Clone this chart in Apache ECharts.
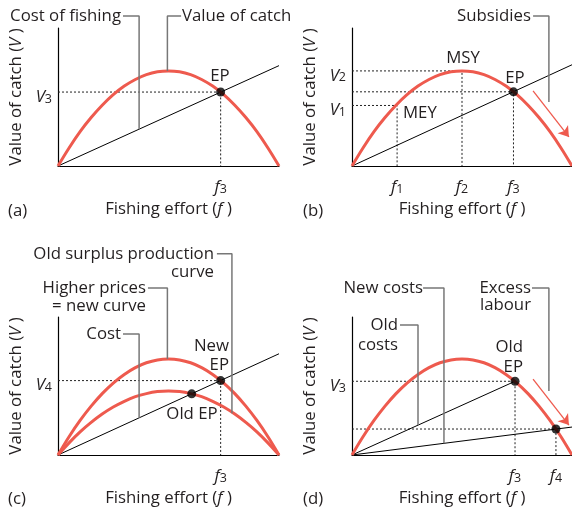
<!DOCTYPE html>
<html><head><meta charset="utf-8">
<script src="https://cdn.jsdelivr.net/npm/echarts@6/dist/echarts.min.js"></script>
<style>html,body{margin:0;padding:0;background:#fff}#c{width:572px;height:511px}</style>
</head><body><div id="c"></div>
<script>
// ---------- data ----------
const effort = [0,5,10,15,20,25,30,35,40,45,50,55,60,65,70,75,80,85,90,95,100];
const catchA = [0,8.2,15.6,22.0,27.6,32.4,36.3,39.3,41.5,42.8,43.2,42.8,41.5,39.3,36.3,32.4,27.6,22.0,15.6,8.2,0];
const catchB = [0,8.2,15.6,22.0,27.6,32.4,36.3,39.3,41.5,42.8,43.2,42.8,41.5,39.3,36.3,32.4,27.6,22.0,15.6,8.2,0];
const catchCNew = [0,8.3,15.7,22.2,27.9,32.7,36.6,39.7,41.9,43.2,43.6,43.2,41.9,39.7,36.6,32.7,27.9,22.2,15.7,8.3,0];
const catchCOld = [0,5.5,10.5,14.8,18.6,21.8,24.4,26.5,27.9,28.8,29.1,28.8,27.9,26.5,24.4,21.8,18.6,14.8,10.5,5.5,0];
const catchD = [0,8.3,15.7,22.2,27.9,32.7,36.6,39.7,41.9,43.2,43.6,43.2,41.9,39.7,36.6,32.7,27.9,22.2,15.7,8.3,0];

const costA = [[0,0],[100,45.6]];
const costB = [[0,0],[100,46]];
const costC = [[0,0],[100,46]];
const costDOld = [[0,0],[74.1,33.5]];
const costDNew = [[0,0],[100,12.7]];

const pointsA = [[73.6,33.6]];
const pointsB = [[73.4,33.7]];
const pointsC = [[73.6,33.8],[60.5,27.8]];
const pointsD = [[74.1,33.5],[92.7,11.8]];

const guidesA = [[[0,33.6],[73.6,33.6],[73.6,0]]];
const guidesB = [[[0,43.2],[50,43.2],[50,0]],[[0,33.7],[73.4,33.7],[73.4,0]],[[0,27.5],[20.5,27.5],[20.5,0]]];
const guidesC = [[[0,33.8],[73.6,33.8],[73.6,0]]];
const guidesD = [[[0,33.5],[74.1,33.5],[74.1,0]],[[0,11.8],[92.7,11.8],[92.7,0]]];

const leadersA = [[[29.4,68.2],[36.7,68.2],[36.7,16.7]],[[55.7,68.2],[49.5,68.2],[49.5,43.2]]];
const leadersB = [[[82.3,68.2],[89.5,68.2],[89.5,29.1]]];
const leadersC = [[[71.9,91.4],[78.7,91.4],[78.7,19]],[[40.7,75.9],[49.5,75.9],[49.5,43.6]],[[29.4,55],[36.7,55],[36.7,16.9]]];
const leadersD = [[[32.3,75.9],[41.8,75.9],[41.8,5.3]],[[21.8,59.1],[30,59.1],[30,13.6]],[[81.8,75.9],[89.5,75.9],[89.5,29.1]]];

const arrowB = [[82.3,34.1],[98.6,13.2]];
const arrowD = [[82.3,34.5],[98.6,13.6]];

// tick labels: [value, letter, subscript]
const yLabelsA = [[33.6,'V','3']];
const yLabelsB = [[43.2,'V','2'],[27.5,'V','1']];
const yLabelsC = [[33.8,'V','4']];
const yLabelsD = [[33.5,'V','3']];
const xLabelsA = [[73.6,'f','3']];
const xLabelsB = [[20.5,'f','1'],[50,'f','2'],[73.4,'f','3']];
const xLabelsC = [[73.6,'f','3']];
const xLabelsD = [[74.1,'f','3'],[92.7,'f','4']];

const panelLetters = ['(a)','(b)','(c)','(d)'];
const xTitle = 'Fishing effort (';
const yTitle = 'Value of catch (';

// ---------- styles ----------
const RED = '#ee5a4e';
const FONT = 'Open Sans';
const TXT = '#231f20';
const FS = 16.8;

const grids = [
  {left:58, top:28, width:221, height:138},
  {left:352, top:28, width:220, height:138},
  {left:58, top:317, width:221, height:138},
  {left:352, top:317, width:220, height:138}
];
const yLabelSets = [yLabelsA,yLabelsB,yLabelsC,yLabelsD];
const xLabelSets = [xLabelsA,xLabelsB,xLabelsC,xLabelsD];

const richSub = {
  i:{fontStyle:'italic', fontFamily:FONT, fontSize:FS, color:TXT, lineHeight:27, verticalAlign:'bottom'},
  s:{fontFamily:FONT, fontSize:12.5, color:TXT, lineHeight:12, verticalAlign:'bottom'}
};
function fmt(set){
  return function(v){
    for (const e of set){ if (Math.abs(e[0]-v) < 0.01) return '{i|'+e[1]+'}{s|'+e[2]+'}'; }
    return '';
  };
}
const titleRich = {it:{fontStyle:'italic', fontFamily:FONT, fontSize:FS, color:TXT}};

const xAxes = grids.map((g,i)=>({
  type:'value', gridIndex:i, min:0, max:100,
  splitLine:{show:false}, axisTick:{show:false},
  axisLine:{show:true, lineStyle:{color:'#000', width:1.2}},
  axisLabel:{customValues:xLabelSets[i].map(e=>e[0]), formatter:fmt(xLabelSets[i]), rich:richSub, margin:3},
  name: xTitle+'{it|f} )', nameLocation:'middle', nameGap:35,
  nameTextStyle:{fontFamily:FONT, fontSize:FS, color:TXT, rich:titleRich}
}));
const yAxes = grids.map((g,i)=>({
  type:'value', gridIndex:i, min:0, max:62.7,
  splitLine:{show:false}, axisTick:{show:false},
  axisLine:{show:true, onZero:false, lineStyle:{color:'#000', width:1.2}},
  axisLabel:{customValues:yLabelSets[i].map(e=>e[0]), formatter:fmt(yLabelSets[i]), rich:richSub, margin:6},
  name: yTitle+'{it|V} )', nameLocation:'middle', nameGap:33, nameRotate:90,
  nameTextStyle:{fontFamily:FONT, fontSize:FS, color:TXT, rich:titleRich}
}));

const series = [];
function curve(i, ys){
  series.push({type:'line', xAxisIndex:i, yAxisIndex:i, data:effort.map((x,k)=>[x,ys[k]]),
    smooth:0.4, showSymbol:false, symbol:'none', lineStyle:{color:RED, width:3}, z:4, silent:true});
}
function poly(i, pts, style, z){
  series.push({type:'line', xAxisIndex:i, yAxisIndex:i, data:pts, symbol:'none', showSymbol:false,
    lineStyle:style, z:z, clip:false, silent:true});
}
function dots(i, pts){
  series.push({type:'scatter', xAxisIndex:i, yAxisIndex:i, data:pts, symbolSize:9,
    itemStyle:{color:'#000'}, z:6, silent:true});
}
function arrow(i, a){
  series.push({type:'lines', coordinateSystem:'cartesian2d', xAxisIndex:i, yAxisIndex:i,
    data:[{coords:a}], symbol:['none','arrow'], symbolSize:10,
    lineStyle:{color:RED, width:1.3, opacity:1}, itemStyle:{color:RED}, z:5, silent:true});
}
const dashStyle = {color:'#222', width:1, type:[2,2]};
const costStyle = {color:'#000', width:1};
const leaderStyle = {color:'#777', width:1.5};

// (a)
guidesA.forEach(g=>poly(0,g,dashStyle,2));
poly(0,costA,costStyle,3);
curve(0,catchA);
leadersA.forEach(l=>poly(0,l,leaderStyle,5));
dots(0,pointsA);
// (b)
guidesB.forEach(g=>poly(1,g,dashStyle,2));
poly(1,costB,costStyle,3);
curve(1,catchB);
leadersB.forEach(l=>poly(1,l,leaderStyle,5));
arrow(1,arrowB);
dots(1,pointsB);
// (c)
guidesC.forEach(g=>poly(2,g,dashStyle,2));
poly(2,costC,costStyle,3);
curve(2,catchCNew);
curve(2,catchCOld);
leadersC.forEach(l=>poly(2,l,leaderStyle,5));
dots(2,pointsC);
// (d)
guidesD.forEach(g=>poly(3,g,dashStyle,2));
poly(3,costDOld,costStyle,3);
poly(3,costDNew,costStyle,3);
curve(3,catchD);
leadersD.forEach(l=>poly(3,l,leaderStyle,5));
arrow(3,arrowD);
dots(3,pointsD);

function T(text,x,y,align){
  return {type:'text', x:x, y:y, z:10, silent:true,
    style:{text:text, fontFamily:FONT, fontSize:FS, fill:TXT, align:align||'center', verticalAlign:'middle'}};
}
const graphic = [
  T(panelLetters[0],8,211,'left'), T(panelLetters[1],303,211,'left'),
  T(panelLetters[2],8,499,'left'), T(panelLetters[3],303,499,'left'),
  // (a)
  T('Cost of fishing',121,16,'right'), T('Value of catch',182,16,'left'), T('EP',220,76),
  // (b)
  T('Subsidies',531,16,'right'), T('MSY',463,58), T('EP',515,78), T('MEY',403,113,'left'),
  // (c)
  T('Old surplus production',214,254,'right'), T('curve',214,272,'right'),
  T('Higher prices',146,288,'right'), T('= new curve',146,306,'right'),
  T('Cost',121,334,'right'), T('New',229,346,'right'), T('EP',229,365,'right'),
  T('Old EP',192,414),
  // (d)
  T('New costs',423,288,'right'), T('Old',398,325,'right'), T('costs',398,345,'right'),
  T('Excess',531,288,'right'), T('labour',531,305,'right'),
  T('Old',523,347,'right'), T('EP',523,367,'right')
];

const chart = echarts.init(document.getElementById('c'), null, {renderer:'canvas'});
chart.setOption({
  animation:false, backgroundColor:'#fff',
  grid:grids, xAxis:xAxes, yAxis:yAxes, series:series, graphic:graphic
});
</script></body></html>
